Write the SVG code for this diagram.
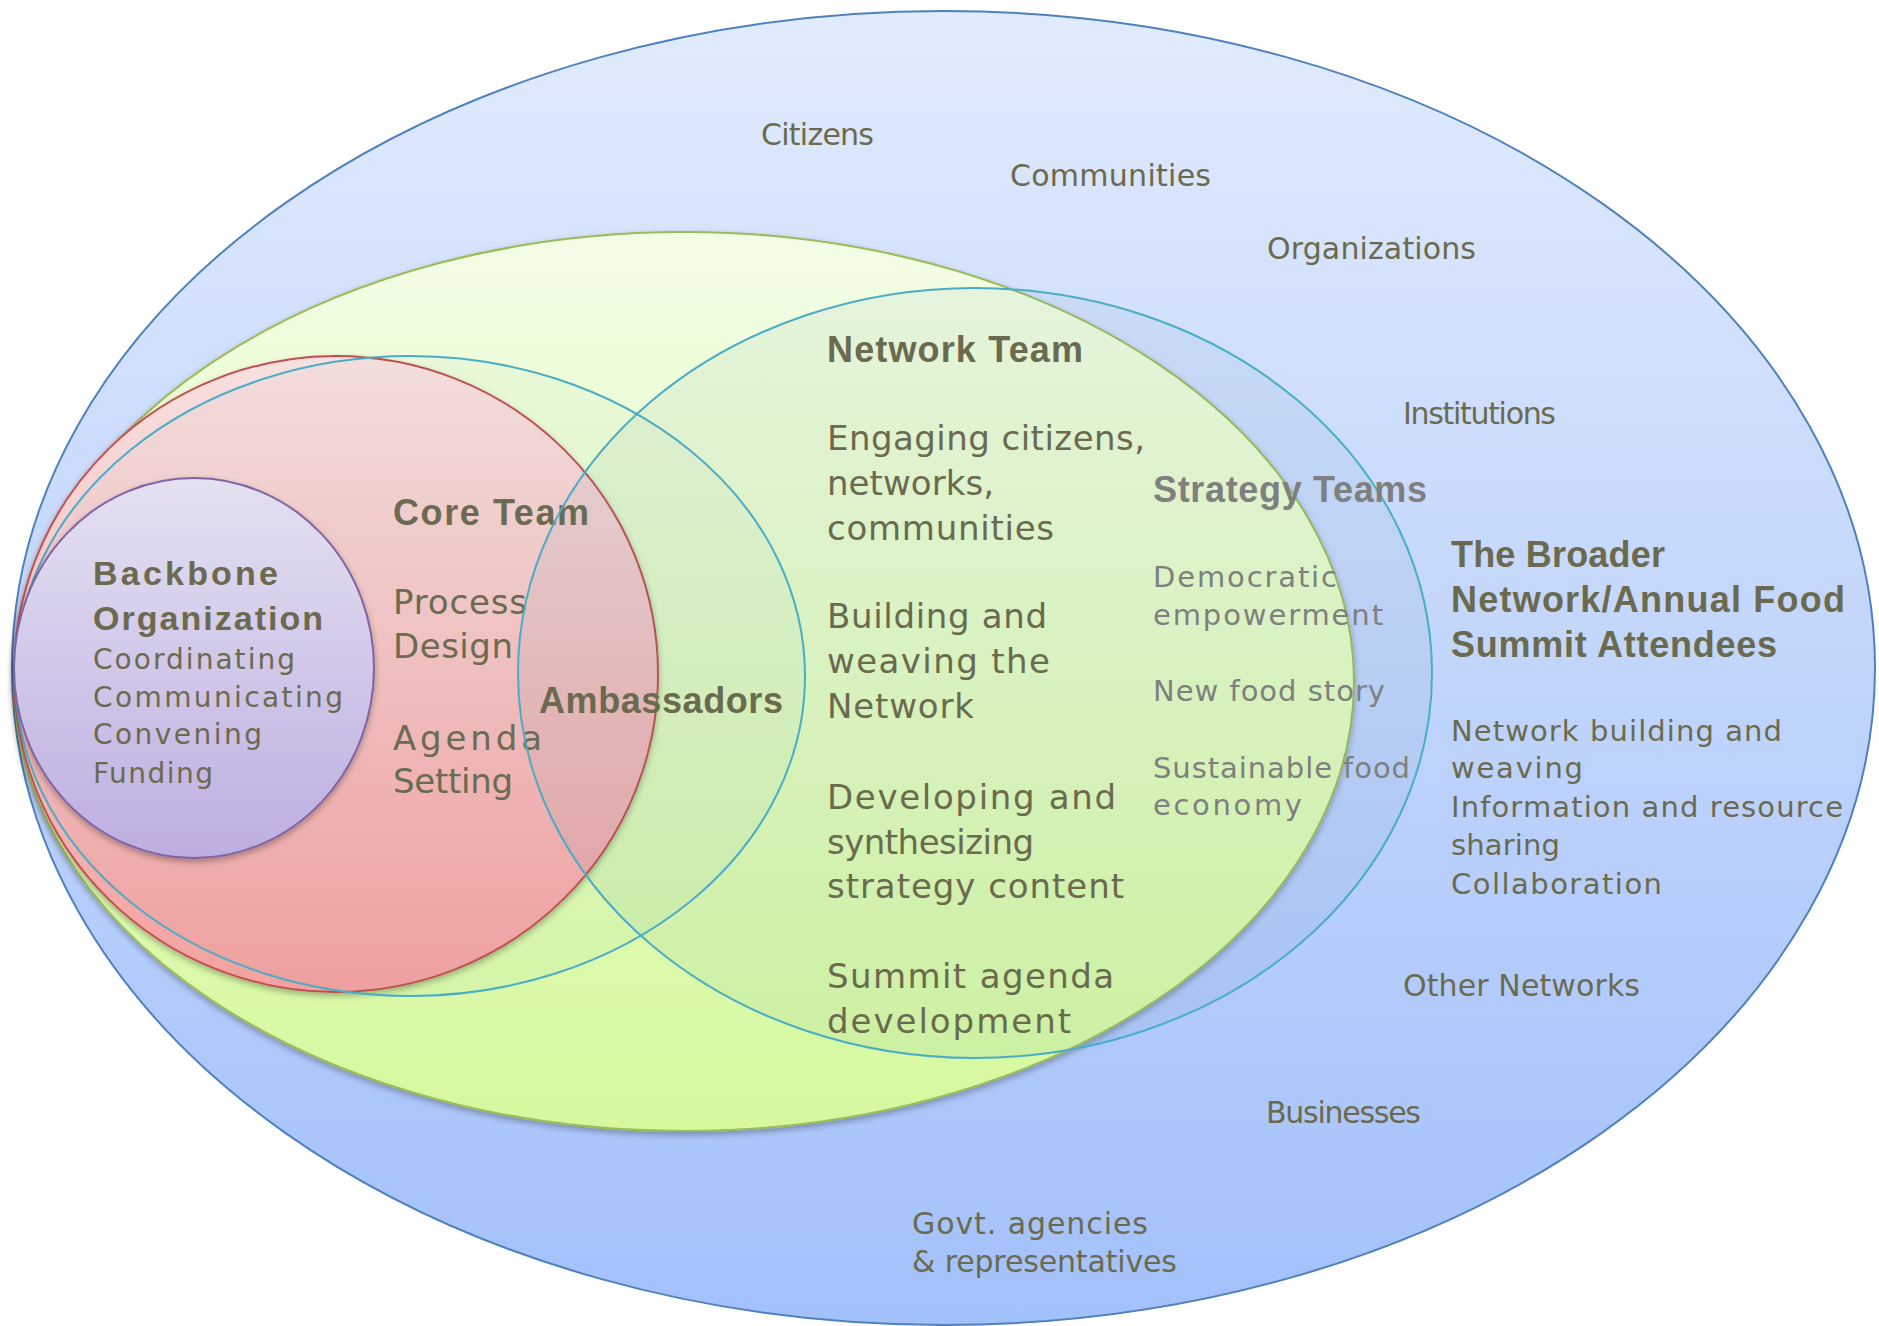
<svg xmlns="http://www.w3.org/2000/svg" width="1879" height="1326" viewBox="0 0 1879 1326">
<defs>
<linearGradient id="gBlue" x1="0" y1="0" x2="0" y2="1"><stop offset="0" stop-color="#e1ebfd"/><stop offset="1" stop-color="#a2c0fa"/></linearGradient>
<linearGradient id="gGreen" x1="0" y1="0" x2="0" y2="1"><stop offset="0" stop-color="#f3fde6"/><stop offset="1" stop-color="#d5f99d"/></linearGradient>
<linearGradient id="gRed" x1="0" y1="0" x2="0" y2="1"><stop offset="0" stop-color="#f8e0e0"/><stop offset="1" stop-color="#f4a0a0"/></linearGradient>
<linearGradient id="gPurple" x1="0" y1="0" x2="0" y2="1"><stop offset="0" stop-color="#e4e1f1"/><stop offset="1" stop-color="#bdaee1"/></linearGradient>
<filter id="sh" x="-5%" y="-5%" width="110%" height="115%"><feDropShadow dx="0" dy="3" stdDeviation="3" flood-color="#000" flood-opacity="0.3"/></filter>
</defs>
<style>
.t{font-family:"DejaVu Sans","Liberation Sans",sans-serif;fill:#6b6a4e;}
.b{font-family:"Liberation Sans",Arial,sans-serif;font-weight:bold;fill:#6b6a4e;}
.g{fill:#7f7f7f;}
.s30{font-size:30px}.s28{font-size:28px}.s34{font-size:34px}.s29{font-size:29px}.s36{font-size:36px}
.cy{fill:rgb(70,130,160);fill-opacity:0.07;stroke:#4bacc6;stroke-width:2;}
.cy2{fill:rgb(110,150,150);fill-opacity:0.04;stroke:#4bacc6;stroke-width:2;}
</style>
<g id="broader-network">
<ellipse cx="943.5" cy="668" rx="931.5" ry="657" fill="url(#gBlue)" stroke="#4f81bd" stroke-width="2"/>
<text class="t s30" x="761" y="145" textLength="113" lengthAdjust="spacing">Citizens</text>
<text class="t s30" x="1010" y="186" textLength="201" lengthAdjust="spacing">Communities</text>
<text class="t s30" x="1267" y="259" textLength="209" lengthAdjust="spacing">Organizations</text>
<text class="t s30" x="1403" y="424" textLength="153" lengthAdjust="spacing">Institutions</text>
<text class="t s30" x="1403" y="996" textLength="237" lengthAdjust="spacing">Other Networks</text>
<text class="t s30" x="1266" y="1123" textLength="155" lengthAdjust="spacing">Businesses</text>
<text class="t s30" x="912" y="1234" textLength="236" lengthAdjust="spacing">Govt. agencies</text>
<text class="t s30" x="912" y="1272" textLength="265" lengthAdjust="spacing">&amp; representatives</text>
<text class="b s36" x="1451" y="567" textLength="214" lengthAdjust="spacing">The Broader</text>
<text class="b s36" x="1451" y="612" textLength="394" lengthAdjust="spacing">Network/Annual Food</text>
<text class="b s36" x="1451" y="657" textLength="326" lengthAdjust="spacing">Summit Attendees</text>
<text class="t s29" x="1451" y="741" textLength="331" lengthAdjust="spacing">Network building and</text>
<text class="t s29" x="1451" y="778" textLength="132" lengthAdjust="spacing">weaving</text>
<text class="t s29" x="1451" y="817" textLength="392" lengthAdjust="spacing">Information and resource</text>
<text class="t s29" x="1451" y="855" textLength="109" lengthAdjust="spacing">sharing</text>
<text class="t s29" x="1451" y="894" textLength="211" lengthAdjust="spacing">Collaboration</text>
</g>
<g id="strategy-teams">
<ellipse cx="684" cy="681.5" rx="670" ry="449.5" fill="url(#gGreen)" stroke="#9bbb59" stroke-width="2" filter="url(#sh)"/>
</g>
<g id="core-team">
<ellipse cx="336" cy="674" rx="322" ry="318" fill="url(#gRed)" stroke="#c0504d" stroke-width="2" filter="url(#sh)"/>
<text class="b s36" x="393" y="525" textLength="196" lengthAdjust="spacing">Core Team</text>
<text class="t s34" x="393" y="614" textLength="134" lengthAdjust="spacing">Process</text>
<text class="t s34" x="393" y="658" textLength="120" lengthAdjust="spacing">Design</text>
<text class="t s34" x="393" y="750" textLength="149" lengthAdjust="spacing">Agenda</text>
<text class="t s34" x="393" y="793" textLength="120" lengthAdjust="spacing">Setting</text>
</g>
<g id="network-team">
<ellipse class="cy" cx="975" cy="673" rx="457" ry="385"/>
<text class="b s36" x="827" y="362" textLength="256" lengthAdjust="spacing">Network Team</text>
<text class="t s34" x="827" y="450" textLength="318" lengthAdjust="spacing">Engaging citizens,</text>
<text class="t s34" x="827" y="495" textLength="167" lengthAdjust="spacing">networks,</text>
<text class="t s34" x="827" y="540" textLength="227" lengthAdjust="spacing">communities</text>
<text class="t s34" x="827" y="628" textLength="220" lengthAdjust="spacing">Building and</text>
<text class="t s34" x="827" y="673" textLength="223" lengthAdjust="spacing">weaving the</text>
<text class="t s34" x="827" y="718" textLength="147" lengthAdjust="spacing">Network</text>
<text class="t s34" x="827" y="809" textLength="289" lengthAdjust="spacing">Developing and</text>
<text class="t s34" x="827" y="854" textLength="207" lengthAdjust="spacing">synthesizing</text>
<text class="t s34" x="827" y="898" textLength="297" lengthAdjust="spacing">strategy content</text>
<text class="t s34" x="827" y="988" textLength="287" lengthAdjust="spacing">Summit agenda</text>
<text class="t s34" x="827" y="1033" textLength="244" lengthAdjust="spacing">development</text>
<text class="b g s36" x="1153" y="502" textLength="274" lengthAdjust="spacing">Strategy Teams</text>
<text class="t g s29" x="1153" y="587" textLength="184" lengthAdjust="spacing">Democratic</text>
<text class="t g s29" x="1153" y="625" textLength="230" lengthAdjust="spacing">empowerment</text>
<text class="t g s29" x="1153" y="701" textLength="232" lengthAdjust="spacing">New food story</text>
<text class="t g s29" x="1153" y="778" textLength="257" lengthAdjust="spacing">Sustainable food</text>
<text class="t g s29" x="1153" y="815" textLength="149" lengthAdjust="spacing">economy</text>
</g>
<g id="ambassadors">
<ellipse class="cy2" cx="410" cy="676" rx="395" ry="320"/>
<text class="b s36" x="539" y="713" textLength="244" lengthAdjust="spacing">Ambassadors</text>
</g>
<g id="backbone-organization">
<ellipse cx="194" cy="668" rx="180" ry="190" fill="url(#gPurple)" stroke="#8064a2" stroke-width="2" filter="url(#sh)"/>
<text class="b s34" x="93" y="585" textLength="185" lengthAdjust="spacing">Backbone</text>
<text class="b s34" x="93" y="630" textLength="230" lengthAdjust="spacing">Organization</text>
<text class="t s28" x="93" y="669" textLength="202" lengthAdjust="spacing">Coordinating</text>
<text class="t s28" x="93" y="707" textLength="250" lengthAdjust="spacing">Communicating</text>
<text class="t s28" x="93" y="744" textLength="169" lengthAdjust="spacing">Convening</text>
<text class="t s28" x="93" y="783" textLength="120" lengthAdjust="spacing">Funding</text>
</g>
<g id="connectors"/>
</svg>
